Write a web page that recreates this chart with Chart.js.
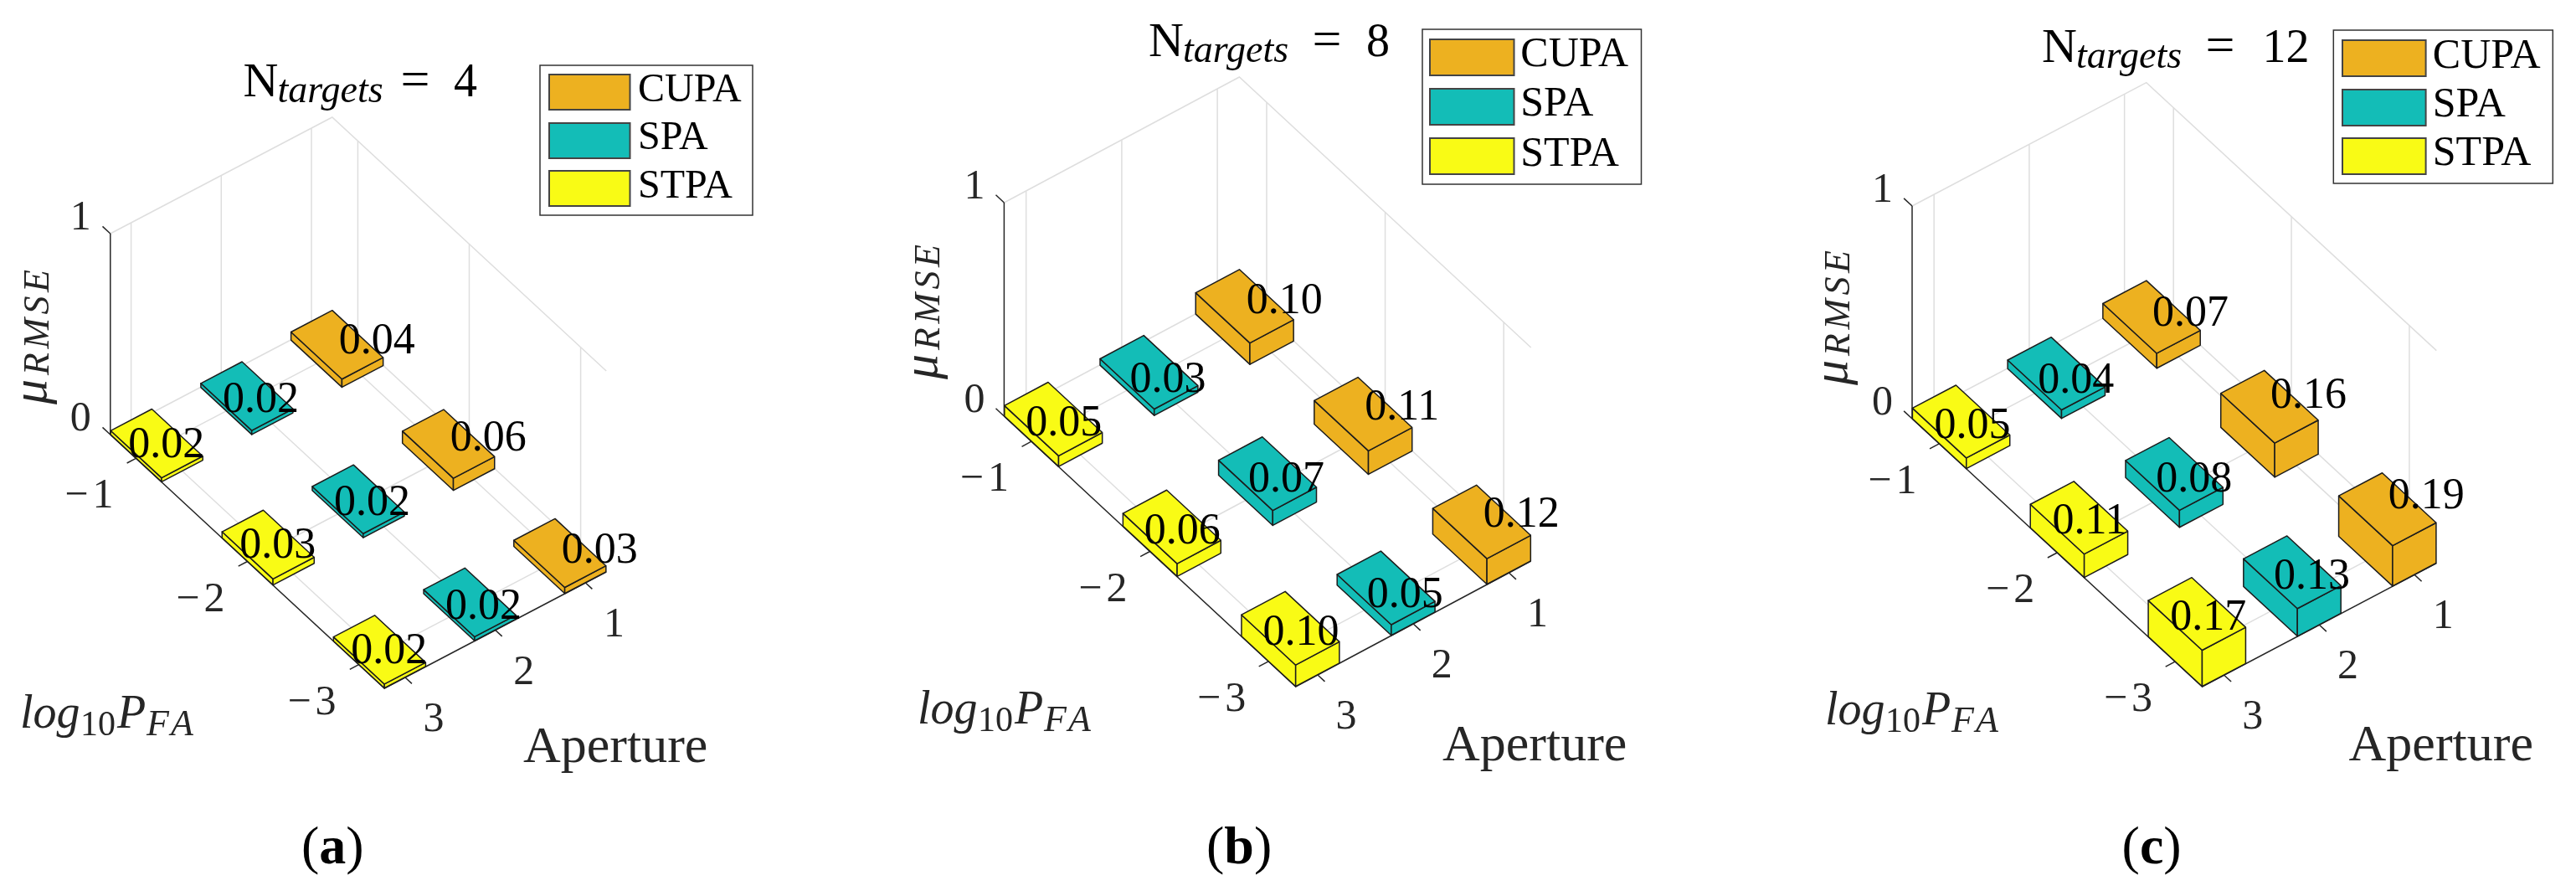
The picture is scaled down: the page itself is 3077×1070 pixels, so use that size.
<!DOCTYPE html>
<html>
<head>
<meta charset="utf-8">
<title>RMSE bars</title>
<script src="https://cdn.jsdelivr.net/npm/chart.js@4"></script>
<style>
  html, body { margin: 0; padding: 0; background: #fff; }
  #wrap { width: 3077px; height: 1070px; }
</style>
</head>
<body>
<div id="wrap"><canvas id="bars" width="3077" height="1070"></canvas></div>
<script>
// values, ordered by logPfa -1, -2, -3
const seriesNames = ["CUPA", "SPA", "STPA"];
const seriesColors = ["#EDB120", "#13BDB7", "#F9FB15"];
const apertures = [1, 2, 3];
const logPfa = [-1, -2, -3];
const zTicks = [0, 1];

const cupa4 = [0.04, 0.06, 0.03];
const spa4 = [0.02, 0.02, 0.02];
const stpa4 = [0.02, 0.03, 0.02];

const cupa8 = [0.10, 0.11, 0.12];
const spa8 = [0.03, 0.07, 0.05];
const stpa8 = [0.05, 0.06, 0.10];

const cupa12 = [0.07, 0.16, 0.19];
const spa12 = [0.04, 0.08, 0.13];
const stpa12 = [0.05, 0.11, 0.17];

// axis limits and bar width in data units
const apLim = [0.77, 3.23];
const pfaLim = [-3.23, -0.77];
const barHalf = 0.2285;

const GRID = "#dedede";
const AXIS = "#262626";
const EDGE = "#1c1c1c";
const SERIF = '"Liberation Serif"';

const panels = [
  {
    targets: 4, caption: "a", values: [cupa4, spa4, stpa4],
    front: [459.2, 822], left: [131.8, 519], right: [724.2, 683], zUnit: 240,
    labelDx: [2, -29, -34], labelDy: 14,
    title: { n: 290.5, base: 115, eq: 478.6, num: 542 },
    legend: { box: [645, 78, 254, 179], sw: [656, 96.5], rows: [89, 147, 204], h: 42, text: 762, base: [121, 178, 236], size: 48 },
    mu: { x: 58, bottom: 483 },
    log: { x: 24, base: 869 },
    aperture: { x: 625, base: 910 },
    capX: 360
  },
  {
    targets: 8, caption: "b", values: [cupa8, spa8, stpa8],
    front: [1547.7, 820], left: [1199.4, 497], right: [1828.7, 670], zUnit: 255,
    labelDx: [2, -23, -33], labelDy: 18,
    title: { n: 1372, base: 67, eq: 1567.5, num: 1632 },
    legend: { box: [1699, 35, 261.5, 185], sw: [1708, 100.5], rows: [47, 106, 165], h: 43, text: 1816.3, base: [79, 138, 198], size: 50 },
    mu: { x: 1121.8, bottom: 453 },
    log: { x: 1096, base: 864 },
    aperture: { x: 1723, base: 908 },
    capX: 1441
  },
  {
    targets: 12, caption: "c", values: [cupa12, spa12, stpa12],
    front: [2630.5, 820], left: [2284, 500], right: [2910.3, 672.6], zUnit: 254,
    labelDx: [1, -22, -32], labelDy: 18,
    title: { n: 2439, base: 74, eq: 2634.4, num: 2702.6 },
    legend: { box: [2787.3, 36, 262, 183], sw: [2798, 99.6], rows: [48, 107, 165], h: 43, text: 2905.8, base: [81, 139, 197], size: 50 },
    mu: { x: 2208.8, bottom: 460 },
    log: { x: 2180, base: 865 },
    aperture: { x: 2805.6, base: 908 },
    capX: 2534.6
  }
];

// how far the value text sits above the floor, per aperture
const labelGain = [1.4, 1.15, 1.05];
const labelBias = [0, -0.025, -0.01];

// oblique view of (aperture, logPfa, z) into the flat scene
function project(p, ap, pfa, z) {
  const a = (pfa - pfaLim[0]) / (pfaLim[1] - pfaLim[0]);
  const b = (apLim[1] - ap) / (apLim[1] - apLim[0]);
  return {
    x: p.front[0] + a * (p.left[0] - p.front[0]) + b * (p.right[0] - p.front[0]),
    y: p.front[1] + a * (p.left[1] - p.front[1]) + b * (p.right[1] - p.front[1]) - z * p.zUnit
  };
}

function lineSet(points, color, width) {
  return {
    data: points, showLine: true, fill: false, borderColor: color, borderWidth: width,
    pointRadius: 0, tension: 0, clip: false
  };
}

function faceSet(points, color) {
  return {
    data: points.concat([points[0]]), showLine: true, fill: "shape", backgroundColor: color,
    borderColor: EDGE, borderWidth: 1.5, borderJoinStyle: "round",
    pointRadius: 0, tension: 0, clip: false
  };
}

const sets = [];

panels.forEach(function (p) {
  const pr = function (ap, pfa, z) { return project(p, ap, pfa, z); };

  // grey grid behind the bars
  [0, 1].forEach(function (z) {
    sets.push(lineSet([pr(apLim[1], pfaLim[1], z), pr(apLim[0], pfaLim[1], z), pr(apLim[0], pfaLim[0], z)], GRID, 1.5));
  });
  apertures.forEach(function (ap) {
    sets.push(lineSet([pr(ap, pfaLim[0], 0), pr(ap, pfaLim[1], 0)], GRID, 1.5));
    sets.push(lineSet([pr(ap, pfaLim[1], 0), pr(ap, pfaLim[1], 1)], GRID, 1.5));
  });
  logPfa.forEach(function (v) {
    sets.push(lineSet([pr(apLim[0], v, 0), pr(apLim[1], v, 0)], GRID, 1.5));
    sets.push(lineSet([pr(apLim[0], v, 0), pr(apLim[0], v, 1)], GRID, 1.5));
  });

  // axis lines and ticks
  sets.push(lineSet([pr(apLim[1], pfaLim[1], 0), pr(apLim[1], pfaLim[1], 1)], AXIS, 1.5));
  sets.push(lineSet([pr(apLim[1], pfaLim[1], 0), pr(apLim[1], pfaLim[0], 0), pr(apLim[0], pfaLim[0], 0)], AXIS, 1.5));
  zTicks.forEach(function (z) {
    sets.push(lineSet([pr(apLim[1], pfaLim[1], z), pr(apLim[1], pfaLim[1] + 0.07, z)], AXIS, 1.5));
  });
  logPfa.forEach(function (v) {
    sets.push(lineSet([pr(apLim[1], v, 0), pr(apLim[1] + 0.1, v, 0)], AXIS, 1.5));
  });
  apertures.forEach(function (ap) {
    sets.push(lineSet([pr(ap, pfaLim[0], 0), pr(ap, pfaLim[0] - 0.06, 0)], AXIS, 1.5));
  });

  // bars, far ones first
  apertures.forEach(function (ap, s) {
    logPfa.forEach(function (v, i) {
      const h = p.values[s][i];
      const color = seriesColors[s];
      const ap0 = ap - barHalf, ap1 = ap + barHalf;
      const p0 = v - barHalf, p1 = v + barHalf;
      sets.push(faceSet([pr(ap1, p0, 0), pr(ap1, p1, 0), pr(ap1, p1, h), pr(ap1, p0, h)], color));
      sets.push(faceSet([pr(ap0, p0, 0), pr(ap1, p0, 0), pr(ap1, p0, h), pr(ap0, p0, h)], color));
      sets.push(faceSet([pr(ap0, p0, h), pr(ap1, p0, h), pr(ap1, p1, h), pr(ap0, p1, h)], color));
    });
  });
});

function put(ctx, str, x, y, font, color, align) {
  ctx.font = font;
  ctx.fillStyle = color || "#000";
  ctx.textAlign = align || "left";
  ctx.textBaseline = "alphabetic";
  ctx.fillText(str, x, y);
}

// math subscripts are set wider than the font's own spacing
function putSpaced(ctx, str, x, y, font, color, gap) {
  let cx = x;
  str.split("").forEach(function (ch) {
    put(ctx, ch, cx, y, font, color);
    cx += ctx.measureText(ch).width + gap;
  });
}

const textPlugin = {
  id: "panelText",
  afterDraw: function (chart) {
    const ctx = chart.ctx;
    const sx = chart.scales.x, sy = chart.scales.y;
    const at = function (pt, dx, dy) {
      return { x: sx.getPixelForValue(pt.x) + dx, y: sy.getPixelForValue(pt.y) + dy };
    };

    panels.forEach(function (p) {
      // value labels
      apertures.forEach(function (ap, s) {
        logPfa.forEach(function (v, i) {
          const h = p.values[s][i];
          const z = h * labelGain[s] + labelBias[s];
          const q = at(project(p, ap, v, z), p.labelDx[s], p.labelDy);
          put(ctx, h.toFixed(2), q.x, q.y, "52px " + SERIF, "#000");
        });
      });

      // tick labels
      zTicks.forEach(function (z) {
        const q = at(project(p, apLim[1], pfaLim[1], z), -23, -5);
        put(ctx, String(z), q.x, q.y, "50px " + SERIF, AXIS, "right");
      });
      logPfa.forEach(function (v) {
        const q = at(project(p, apLim[1], v, 0), -27, 59);
        put(ctx, String(Math.abs(v)), q.x, q.y, "50px " + SERIF, AXIS, "right");
        const dw = ctx.measureText(String(Math.abs(v))).width;
        put(ctx, "\u2212", q.x - dw - 5, q.y, "50px " + SERIF, AXIS, "right");
      });
      apertures.forEach(function (ap) {
        const q = at(project(p, ap, pfaLim[0], 0), 34, 64);
        put(ctx, String(ap), q.x, q.y, "50px " + SERIF, AXIS, "center");
      });

      // title
      const t = p.title;
      put(ctx, "N", t.n, t.base, "58px " + SERIF, "#000");
      put(ctx, "targets", t.n + 41, t.base + 7, "italic 46px " + SERIF, "#000");
      put(ctx, "=", t.eq, t.base, "62px " + SERIF, "#000");
      put(ctx, String(p.targets), t.num, t.base, "56px " + SERIF, "#000");

      // legend
      const L = p.legend;
      ctx.fillStyle = "#fff";
      ctx.strokeStyle = "#333";
      ctx.lineWidth = 1.5;
      ctx.fillRect(L.box[0], L.box[1], L.box[2], L.box[3]);
      ctx.strokeRect(L.box[0], L.box[1], L.box[2], L.box[3]);
      seriesNames.forEach(function (name, s) {
        ctx.fillStyle = seriesColors[s];
        ctx.strokeStyle = "#444";
        ctx.lineWidth = 2;
        ctx.fillRect(L.sw[0], L.rows[s], L.sw[1], L.h);
        ctx.strokeRect(L.sw[0], L.rows[s], L.sw[1], L.h);
        put(ctx, name, L.text, L.base[s], L.size + "px " + SERIF, "#000");
      });

      // axis names
      ctx.save();
      ctx.translate(p.mu.x, p.mu.bottom);
      ctx.rotate(-Math.PI / 2);
      put(ctx, "\u03bc", 0, -3, "italic 60px " + SERIF, AXIS);
      putSpaced(ctx, "RMSE", 35, 0, "italic 44px " + SERIF, AXIS, 4.5);
      ctx.restore();

      put(ctx, "log", p.log.x, p.log.base, "italic 56px " + SERIF, AXIS);
      put(ctx, "10", p.log.x + 72, p.log.base + 9, "42px " + SERIF, AXIS);
      put(ctx, "P", p.log.x + 116, p.log.base, "italic 56px " + SERIF, AXIS);
      putSpaced(ctx, "FA", p.log.x + 151, p.log.base + 9, "italic 44px " + SERIF, AXIS, 2);

      put(ctx, "Aperture", p.aperture.x, p.aperture.base, "62px " + SERIF, AXIS);

      // sub-figure letter
      put(ctx, "(", p.capX, 1031, "64px " + SERIF, "#000");
      const w = ctx.measureText("(").width;
      put(ctx, p.caption, p.capX + w, 1031, "bold 64px " + SERIF, "#000");
      const w2 = ctx.measureText(p.caption).width;
      put(ctx, ")", p.capX + w + w2, 1031, "64px " + SERIF, "#000");
    });
  }
};

new Chart(document.getElementById("bars").getContext("2d"), {
  type: "scatter",
  data: { datasets: sets.reverse() }, // chart.js paints the first dataset last
  options: {
    responsive: false,
    devicePixelRatio: 1,
    animation: false,
    events: [],
    layout: { padding: 0 },
    plugins: { legend: { display: false }, tooltip: { enabled: false } },
    scales: {
      x: { type: "linear", display: false, min: 0, max: 3077 },
      y: { type: "linear", display: false, min: 0, max: 1070, reverse: true }
    }
  },
  plugins: [textPlugin]
});
</script>
</body>
</html>
